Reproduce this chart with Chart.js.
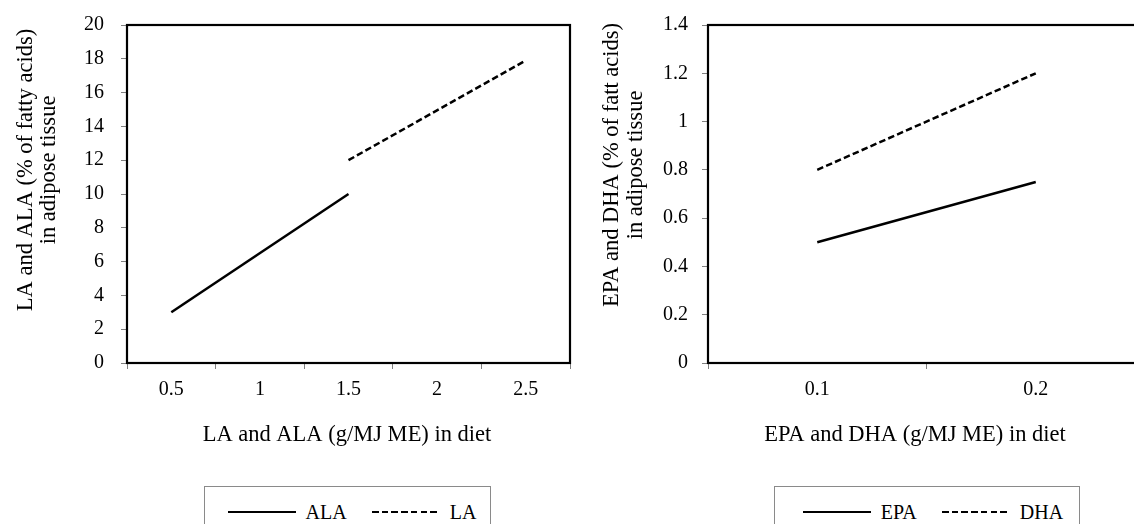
<!DOCTYPE html>
<html>
<head>
<meta charset="utf-8">
<script src="https://cdn.jsdelivr.net/npm/chart.js@4.4.0/dist/chart.umd.min.js"></script>
<style>
  html, body { margin: 0; padding: 0; width: 1134px; height: 524px; overflow: hidden; background: #fff; }
  .panel { position: absolute; top: 0; }
  #leftPanel { left: 0; }
  #rightPanel { left: 567px; }
  .legend {
    position: absolute; top: 486px; height: 60px; box-sizing: border-box;
    border: 1px solid #8a8a8a; display: flex; justify-content: center; align-items: flex-start;
    padding-top: 14px; padding-left: 9px; font-family: "Liberation Serif", "Times New Roman", serif; font-size: 20px;
    line-height: 22px; color: #000;
  }
  #leftLegend { left: 204px; width: 287px; }
  #rightLegend { left: 774px; width: 306px; padding-left: 12px; }
  .item { display: flex; align-items: center; }
  .item + .item { margin-left: 25px; }
  .sample { width: 68px; height: 2.5px; margin-right: 10px; background: #000; }
  .sample.dashed { background: repeating-linear-gradient(to right, #000 0 6.5px, transparent 6.5px 9.7px); }
</style>
</head>
<body>
<div class="panel" id="leftPanel"><canvas id="leftChart" width="580" height="470"></canvas></div>
<div class="panel" id="rightPanel"><canvas id="rightChart" width="600" height="470"></canvas></div>
<div class="legend" id="leftLegend"></div>
<div class="legend" id="rightLegend"></div>
<script>
"use strict";

// left panel: LA and ALA
const leftCategories = ['0.5', '1', '1.5', '2', '2.5'];
const alaValues = [3, null, 10, null, null];
const laValues = [null, null, 12, null, 17.9];
const leftYTicks = ['0', '2', '4', '6', '8', '10', '12', '14', '16', '18', '20'];

// right panel: EPA and DHA
const rightCategories = ['0.1', '0.2'];
const epaValues = [0.5, 0.75];
const dhaValues = [0.8, 1.2];
const rightYTicks = ['0', '0.2', '0.4', '0.6', '0.8', '1', '1.2', '1.4'];

const FONT = '"Liberation Serif", "Times New Roman", serif';
const DASH = [6.5, 3.2];

// thick frame round the plot area
const framePlugin = {
    id: 'frame',
    afterDraw(chart) {
        const a = chart.chartArea, ctx = chart.ctx;
        ctx.save();
        ctx.strokeStyle = '#000';
        ctx.lineWidth = 2.2;
        ctx.strokeRect(a.left, a.top, a.right - a.left, a.bottom - a.top);
        ctx.restore();
    }
};

// axis titles (y title is two lines, sits a bit above the plot centre)
const titlePlugin = {
    id: 'axisTitles',
    afterDraw(chart, args, o) {
        const ctx = chart.ctx;
        ctx.save();
        ctx.fillStyle = '#000';
        ctx.font = '22.5px ' + FONT;
        ctx.textAlign = 'center';
        ctx.textBaseline = 'middle';
        ctx.fillText(o.xTitle, o.xCenter, o.xY);
        ctx.translate(o.yX, o.yCenter);
        ctx.rotate(-Math.PI / 2);
        const n = o.yTitle.length;
        o.yTitle.forEach((line, i) => ctx.fillText(line, 0, (i - (n - 1) / 2) * o.lineGap));
        ctx.restore();
    }
};

function buildChart(id, cfg) {
    return new Chart(document.getElementById(id), {
        type: 'line',
        data: {
            labels: cfg.categories,
            datasets: cfg.series.map(s => ({
                label: s.name,
                data: s.values,
                borderColor: '#000',
                borderWidth: 2.5,
                borderDash: s.dashed ? DASH : [],
                pointRadius: 0,
                spanGaps: true,
                tension: 0
            }))
        },
        options: {
            responsive: false,
            animation: false,
            layout: { padding: { top: 25, right: cfg.padRight, left: 0, bottom: 0 } },
            plugins: {
                legend: { display: false },
                tooltip: { enabled: false },
                axisTitles: cfg.titles
            },
            scales: {
                x: {
                    type: 'category',
                    offset: true,
                    afterFit(scale) { scale.height = 470 - 363; },
                    grid: { offset: true, drawOnChartArea: false, tickLength: 6, color: '#808080', lineWidth: 1 },
                    border: { color: '#000', width: 2 },
                    ticks: { color: '#000', font: { family: FONT, size: 20 }, padding: 9, maxRotation: 0 }
                },
                y: {
                    min: 0,
                    max: cfg.yMax,
                    afterFit(scale) {
                        scale.width = cfg.axisLeft;
                        // keep the label padding from pushing the plot top down
                        scale.paddingTop = 12;
                        scale.paddingBottom = 12;
                    },
                    grid: { drawOnChartArea: false, tickLength: 6, color: '#808080', lineWidth: 1 },
                    border: { color: '#000', width: 2 },
                    ticks: {
                        stepSize: cfg.yStep,
                        color: '#000',
                        padding: cfg.tickPad,
                        font: { family: FONT, size: 20 },
                        callback: (v, i) => cfg.yTicks[i]
                    }
                }
            }
        },
        plugins: [framePlugin, titlePlugin]
    });
}

function buildLegend(id, series) {
    const box = document.getElementById(id);
    series.forEach(s => {
        const item = document.createElement('div');
        item.className = 'item';
        const sample = document.createElement('span');
        sample.className = 'sample' + (s.dashed ? ' dashed' : '');
        const text = document.createElement('span');
        text.textContent = s.name;
        item.appendChild(sample);
        item.appendChild(text);
        box.appendChild(item);
    });
}

const leftSeries = [
    { name: 'ALA', values: alaValues, dashed: false },
    { name: 'LA', values: laValues, dashed: true }
];
const rightSeries = [
    { name: 'EPA', values: epaValues, dashed: false },
    { name: 'DHA', values: dhaValues, dashed: true }
];

buildChart('leftChart', {
    categories: leftCategories,
    series: leftSeries,
    yMax: 20, yStep: 2, yTicks: leftYTicks,
    axisLeft: 127, padRight: 10, tickPad: 17,
    titles: {
        xTitle: 'LA and ALA (g/MJ ME) in diet', xCenter: 347, xY: 435,
        yTitle: ['LA and ALA (% of fatty acids)', 'in adipose tissue'],
        yX: 38, yCenter: 170, lineGap: 23
    }
});

buildChart('rightChart', {
    categories: rightCategories,
    series: rightSeries,
    yMax: 1.4, yStep: 0.2, yTicks: rightYTicks,
    axisLeft: 141, padRight: 22, tickPad: 14,
    titles: {
        xTitle: 'EPA and DHA (g/MJ ME) in diet', xCenter: 348, xY: 435,
        yTitle: ['EPA and DHA (% of fatt acids)', 'in adipose tissue'],
        yX: 57, yCenter: 165, lineGap: 24
    }
});

buildLegend('leftLegend', leftSeries);
buildLegend('rightLegend', rightSeries);
</script>
</body>
</html>
